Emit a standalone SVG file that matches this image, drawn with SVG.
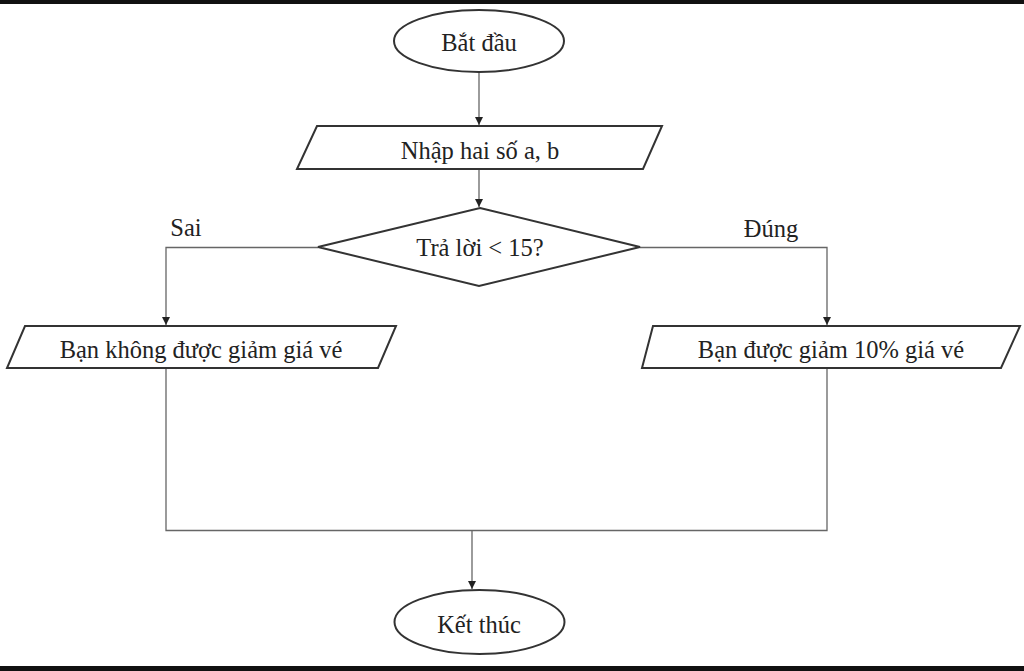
<svg xmlns="http://www.w3.org/2000/svg" width="1024" height="671" viewBox="0 0 1024 671">
<style>
.shape{fill:#fff;stroke:#333;stroke-width:2}
.conn{fill:none;stroke:#666;stroke-width:1.3}
text{font-family:"Liberation Serif","Times New Roman",serif;font-size:24.5px;fill:#222;text-anchor:middle;dominant-baseline:central}
</style>
<defs>
<marker id="arr" markerWidth="10" markerHeight="10" refX="8" refY="4" orient="auto" markerUnits="userSpaceOnUse">
<path d="M0,0 L8,4 L0,8 Z" fill="#222"/>
</marker>
</defs>
<rect x="0" y="0" width="1024" height="671" fill="#fff"/>
<rect x="0" y="0" width="1024" height="4" fill="#111"/>
<rect x="0" y="666" width="1024" height="5" fill="#111"/>
<g id="connectors">
<path class="conn" d="M479,72 L479,125" marker-end="url(#arr)"/>
<path class="conn" d="M479,169 L479,207" marker-end="url(#arr)"/>
<path class="conn" d="M318,247.5 L166,247.5 L166,325" marker-end="url(#arr)"/>
<path class="conn" d="M640,247.5 L827,247.5 L827,325" marker-end="url(#arr)"/>
<path class="conn" d="M166,368 L166,530.5 L827,530.5 L827,368"/>
<path class="conn" d="M472,530.5 L472,589" marker-end="url(#arr)"/>
</g>
<g id="start">
<ellipse class="shape" cx="479" cy="41" rx="85" ry="31"/>
<text x="479" y="42">Bắt đầu</text>
</g>
<g id="input">
<polygon class="shape" points="317,126 662,126 643,169 297,169"/>
<text x="480" y="150">Nhập hai số a, b</text>
</g>
<g id="decision">
<polygon class="shape" points="480,208 640,247 479,286 318,247"/>
<text x="480" y="247">Trả lời &lt; 15?</text>
</g>
<g id="label-sai"><text x="186" y="227">Sai</text></g>
<g id="label-dung"><text x="771" y="228">Đúng</text></g>
<g id="no-discount">
<polygon class="shape" points="25,326 396,326 378,368 7,368"/>
<text x="201" y="349">Bạn không được giảm giá vé</text>
</g>
<g id="discount">
<polygon class="shape" points="653,326 1020,326 1001,368 642,368"/>
<text x="831" y="349">Bạn được giảm 10% giá vé</text>
</g>
<g id="end">
<ellipse class="shape" cx="479.5" cy="622" rx="85" ry="32"/>
<text x="479" y="624">Kết thúc</text>
</g>
</svg>
